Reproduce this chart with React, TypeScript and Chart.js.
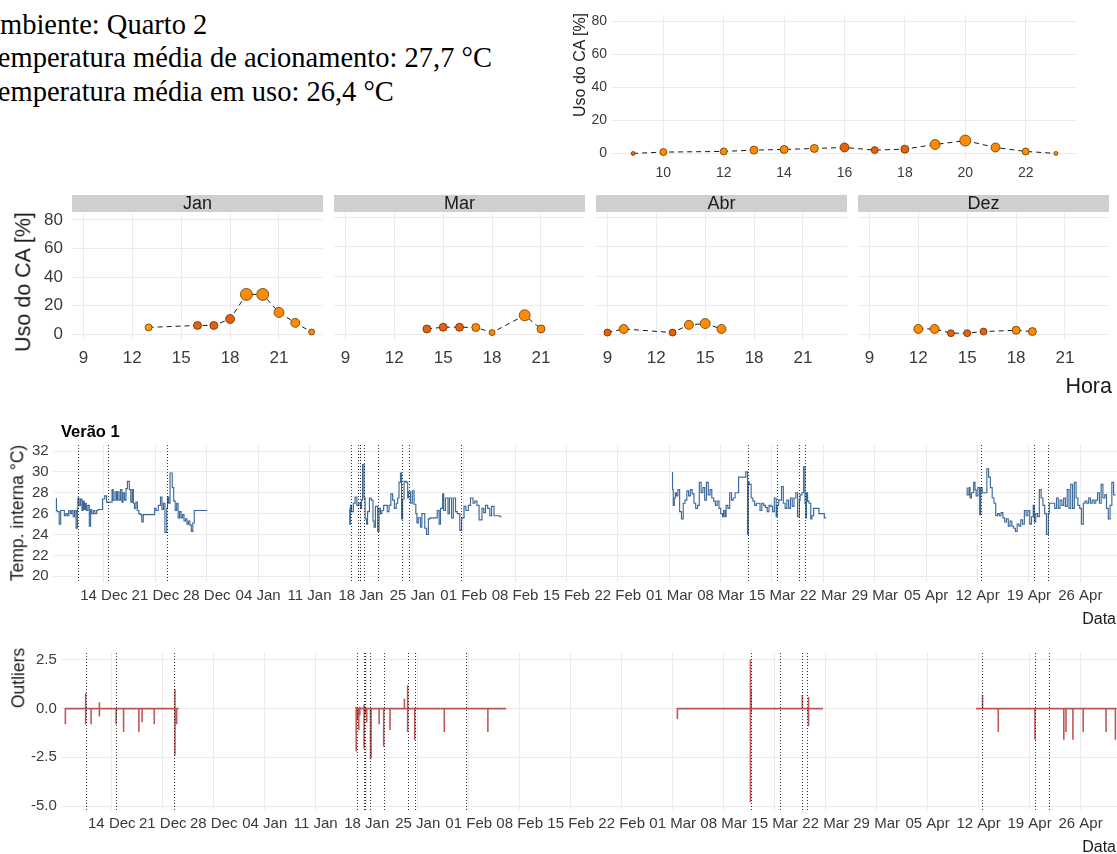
import React, { useEffect, useRef } from 'react';
import { Chart, registerables } from 'chart.js';

Chart.register(...registerables);

const SANS = '"Liberation Sans", Arial, Helvetica, sans-serif';
const SERIF = '"Liberation Serif", "Times New Roman", Times, serif';
const GRID = '#EBEBEB';
const TICK_COLOR = '#3a3a3a';

// ---------------- header text ----------------
const headerLines = [
  'Ambiente: Quarto 2',
  'Temperatura média de acionamento: 27,7 °C',
  'Temperatura média em uso: 26,4 °C',
];

// ---------------- hourly AC use (all months) ----------------
const allHours = [9, 10, 12, 13, 14, 15, 16, 17, 18, 19, 20, 21, 22, 23];
const allUse = [0, 0.8, 1.2, 2, 2.4, 3, 3.6, 2, 2.6, 5.4, 7.8, 3.6, 1.2, 0];
const allCount = [2, 3.5, 3.5, 4, 4, 4, 4.5, 3.5, 4, 5, 5.5, 4.5, 3.5, 2];
const allTone = [1, 0, 0, 0, 0, 0, 1, 1, 1, 0, 0, 0, 0, 0];
const allHourTicks = [10, 12, 14, 16, 18, 20, 22];

// ---------------- hourly AC use per month ----------------
const facetNames = ['Jan', 'Mar', 'Abr', 'Dez'];
const janHours = [13, 16, 17, 18, 19, 20, 21, 22, 23];
const janUse = [4.8, 6.2, 6.2, 10.7, 27.9, 27.9, 15.3, 8.0, 1.6];
const janCount = [3.5, 4, 4, 4.5, 6, 6, 5, 4.5, 3];
const janTone = [2, 1, 1, 1, 0, 0, 0, 0, 0];
const marHours = [14, 15, 16, 17, 18, 20, 21];
const marUse = [3.6, 4.8, 4.8, 4.6, 1.1, 13.0, 3.6];
const marCount = [4, 4, 4, 4, 3, 5.5, 4];
const marTone = [1, 1, 1, 0, 0, 0, 0];
const abrHours = [9, 10, 13, 14, 15, 16];
const abrUse = [1.1, 3.6, 1.1, 6.4, 7.3, 3.6];
const abrCount = [3.5, 4.5, 3.5, 4.5, 5, 4.5];
const abrTone = [1, 0, 1, 0, 0, 0];
const dezHours = [12, 13, 14, 15, 16, 18, 19];
const dezUse = [3.6, 3.6, 0.7, 0.7, 1.8, 2.7, 1.8];
const dezCount = [4.5, 4.5, 3.5, 3.5, 3.5, 4, 4];
const dezTone = [0, 0, 1, 1, 1, 0, 0];
const facetHourTicks = [9, 12, 15, 18, 21];
const useTicks = [0, 20, 40, 60, 80];

// ---------------- time axis (days since 14 Dec 2020) ----------------
const dateTickDays = [0, 7, 14, 21, 28, 35, 42, 49, 56, 63, 70, 77, 84, 91, 98, 105, 112, 119, 126, 133];
const dateTickLabels = [
  '14 Dec', '21 Dec', '28 Dec', '04 Jan', '11 Jan', '18 Jan', '25 Jan', '01 Feb', '08 Feb', '15 Feb',
  '22 Feb', '01 Mar', '08 Mar', '15 Mar', '22 Mar', '29 Mar', '05 Apr', '12 Apr', '19 Apr', '26 Apr',
];
const acEventDays = [-3.58, 0.53, 8.6, 33.65, 34.58, 34.83, 35.48, 37.32, 40.6, 41.56, 48.66, 87.72, 91.68, 94.74, 95.5, 119.44, 126.68, 128.6];

// ---------------- indoor temperature [day, °C] ----------------
const tempDec = [
  [-6.48, 27.5], [-6.38, 26.3], [-6.1, 26.2], [-5.9, 25.0], [-5.75, 26.3], [-5.4, 26.3], [-5.2, 25.8], [-5.0, 26.0],
  [-4.8, 25.8], [-4.6, 26.3], [-4.4, 26.0], [-4.2, 26.3], [-4.0, 25.7], [-3.8, 26.3], [-3.62, 24.6], [-3.55, 26.5],
  [-3.4, 27.5], [-3.2, 26.8], [-3.0, 27.4], [-2.85, 26.3], [-2.7, 27.2], [-2.55, 26.4], [-2.4, 27.0], [-2.2, 26.3],
  [-2.0, 26.8], [-1.82, 24.8], [-1.68, 26.4], [-1.45, 26.0], [-1.25, 26.3], [-1.0, 26.0], [-0.8, 26.3], [-0.5, 26.4],
  [-0.2, 26.4], [0.1, 27.4], [0.35, 27.7], [0.55, 27.1], [1.1, 27.1], [1.25, 28.3], [1.5, 27.3], [1.7, 28.1],
  [1.85, 27.3], [2.05, 28.1], [2.25, 27.3], [2.45, 28.3], [2.6, 27.1], [2.8, 28.0], [3.0, 27.3], [3.2, 28.4],
  [3.45, 29.1], [3.65, 28.3], [3.85, 27.1], [4.0, 28.3], [4.15, 27.0], [4.35, 26.5], [4.55, 27.1], [4.75, 26.3],
  [4.95, 26.0], [5.15, 25.9], [5.35, 25.2], [5.5, 25.9], [6.9, 25.9], [7.1, 26.5], [7.4, 26.3], [7.7, 26.8],
  [7.9, 27.6], [8.1, 26.4], [8.3, 27.0], [8.55, 24.2], [8.65, 26.5], [8.8, 27.6], [9.0, 27.0], [9.3, 29.9],
  [9.5, 28.5], [9.7, 27.2], [9.9, 26.3], [10.1, 27.0], [10.3, 25.6], [10.5, 26.2], [10.7, 25.6], [10.9, 25.9],
  [11.1, 25.3], [11.3, 25.5], [11.5, 25.0], [11.7, 25.3], [11.9, 24.9], [12.1, 24.3], [12.3, 25.1], [13.1, 26.3],
  [14.05, 26.3],
];
const tempJan = [
  [33.48, 26.5], [33.58, 25.0], [33.72, 26.8], [33.97, 26.2], [34.21, 27.0], [34.45, 27.6], [34.7, 26.8], [34.94, 27.0],
  [35.09, 26.5], [35.23, 27.3], [35.43, 30.7], [35.57, 27.5], [35.77, 25.5], [35.91, 25.0], [36.16, 26.2], [36.4, 27.5],
  [36.64, 27.3], [36.79, 25.3], [36.98, 24.7], [37.28, 26.7], [37.47, 24.3], [37.66, 26.5], [37.86, 26.0], [38.1, 26.3],
  [38.59, 26.8], [38.83, 26.2], [39.08, 26.8], [39.32, 27.9], [39.56, 27.3], [39.81, 26.5], [40.0, 27.0], [40.19, 27.5],
  [40.39, 29.0], [40.54, 29.9], [40.68, 25.5], [40.88, 27.4], [41.17, 29.1], [41.37, 29.0], [41.51, 27.5], [41.76, 28.1],
  [42.0, 27.0], [42.24, 28.2], [42.48, 26.9], [42.63, 26.0], [42.82, 25.1], [43.11, 25.6], [43.31, 24.7], [43.7, 26.0],
  [43.94, 24.6], [44.19, 24.0], [44.43, 25.5], [45.4, 25.6], [45.65, 26.3], [45.84, 25.0], [46.13, 26.5], [46.28, 27.9],
  [46.52, 26.3], [46.86, 27.5], [47.06, 26.0], [47.35, 27.5], [47.59, 25.6], [47.89, 27.5], [48.13, 26.2], [48.47, 26.0],
  [48.72, 24.4], [49.05, 25.6], [49.3, 26.7], [49.64, 26.3], [49.93, 26.8], [50.27, 27.5], [50.51, 27.0], [50.81, 27.2],
  [51.1, 26.8], [51.49, 25.4], [51.73, 26.5], [51.97, 26.1], [52.27, 26.8], [52.56, 26.5], [52.8, 25.8], [53.14, 26.7],
  [53.92, 25.8], [54.16, 25.7],
];
const tempMar = [
  [77.45, 30.0], [77.55, 28.3], [77.69, 26.8], [77.84, 27.5], [77.99, 28.0], [78.18, 27.7], [78.42, 28.3], [78.67, 26.2],
  [78.91, 25.5], [79.15, 27.0], [79.4, 27.3], [79.64, 28.2], [79.88, 27.7], [80.13, 28.3], [80.37, 27.9], [80.61, 27.0],
  [80.86, 26.5], [81.1, 26.8], [81.34, 29.0], [81.59, 28.0], [81.83, 28.5], [82.07, 27.3], [82.32, 29.0], [82.56, 27.8],
  [82.8, 28.3], [83.05, 27.5], [83.29, 27.2], [83.53, 26.8], [83.78, 27.2], [84.02, 26.5], [84.26, 26.0], [84.41, 25.7],
  [84.6, 26.3], [84.75, 25.7], [84.99, 26.8], [85.24, 26.5], [85.48, 28.0], [85.72, 27.3], [85.97, 27.5], [86.45, 28.0],
  [87.43, 29.5], [87.67, 30.0], [87.77, 24.0], [87.91, 29.0], [88.16, 28.8], [88.4, 27.5], [88.64, 27.2], [88.89, 26.8],
  [89.37, 27.0], [89.62, 26.3], [89.86, 27.0], [90.1, 26.8], [90.35, 26.6], [90.59, 26.2], [90.83, 26.8], [91.08, 26.7],
  [91.32, 26.2], [91.57, 27.5], [91.71, 25.7], [91.91, 26.8], [92.3, 27.3], [92.54, 28.6], [92.79, 27.0], [93.03, 26.5],
  [93.27, 27.3], [93.52, 26.5], [93.76, 27.5], [94.0, 26.7], [94.25, 27.5], [94.49, 28.0], [94.73, 25.7], [94.83, 27.3],
  [95.07, 27.8], [95.31, 28.0], [95.5, 30.5], [95.6, 27.0], [95.7, 25.6], [95.85, 28.0], [96.04, 27.2], [96.28, 27.0],
  [96.43, 25.5], [96.67, 25.8], [97.4, 26.5], [98.13, 26.0], [98.38, 25.6],
];
const tempApr = [
  [117.59, 28.5], [117.83, 27.8], [117.98, 28.5], [118.17, 27.5], [118.47, 28.0], [118.66, 29.0], [118.81, 28.3], [119.05, 27.7],
  [119.29, 28.5], [119.44, 25.9], [119.63, 28.5], [119.93, 28.0], [120.27, 28.0], [120.51, 30.3], [120.75, 29.5], [121.0, 28.5],
  [121.24, 27.5], [121.48, 27.0], [121.73, 25.8], [121.97, 26.0], [122.21, 25.8], [122.46, 26.1], [122.7, 25.6], [122.94, 25.2],
  [123.19, 25.5], [123.43, 24.8], [123.67, 25.3], [123.92, 24.8], [124.16, 24.6], [124.4, 24.3], [124.65, 25.0], [124.89, 24.8],
  [125.13, 25.4], [125.38, 25.0], [125.62, 26.3], [125.86, 25.8], [126.11, 26.3], [126.35, 25.0], [126.59, 25.7], [126.74, 26.8],
  [126.93, 25.2], [127.18, 26.0], [127.42, 25.7], [127.66, 28.3], [127.91, 27.5], [128.15, 26.8], [128.39, 26.0], [128.64, 24.0],
  [128.78, 26.0], [129.51, 27.0], [129.76, 26.5], [130.0, 27.5], [130.24, 26.5], [130.49, 27.3], [130.73, 26.8], [130.97, 27.5],
  [131.22, 26.7], [131.46, 28.3], [131.7, 26.5], [131.95, 28.8], [132.19, 26.5], [132.43, 29.0], [132.68, 27.5], [132.92, 26.8],
  [133.16, 26.5], [133.41, 25.0], [133.65, 27.0], [133.89, 27.2], [134.14, 27.0], [134.38, 27.5], [134.62, 27.0], [134.87, 27.3],
  [135.11, 27.0], [135.35, 27.3], [135.6, 28.0], [135.84, 27.0], [136.08, 28.8], [136.33, 27.5], [136.57, 27.8], [136.81, 26.5],
  [137.06, 25.5], [137.3, 26.8], [137.54, 29.0], [137.79, 27.8],
];
const tempTicks = [20, 22, 24, 26, 28, 30, 32];

// ---------------- outliers ----------------
// [start day, value at start, end day]
const outlierSpans = [
  [-6.37, -0.8, 9.16],
  [33.5, 0, 54.15],
  [77.65, -0.54, 97.64],
  [118.65, 0, 137.95],
];
// [day, value, optional second value]
const outlierSpikes = [
  [-3.58, 0.8, -0.8], [-2.84, -0.8], [-1.7, 0.33, -0.41], [0.6, -0.8], [1.62, -1.2], [3.72, -1.2], [4.16, -0.7],
  [5.83, -0.8], [8.67, 1.0, -2.4], [8.9, -0.8],
  [33.56, 0.1, -2.2], [33.72, -0.6], [33.9, -1.1], [34.05, 0.1, -0.35], [34.64, 0.2, -2.05], [34.8, -0.3], [35.0, -0.7],
  [35.52, -2.6], [35.6, -2.5], [36.7, -0.8], [37.33, -1.95], [38.2, -1.1], [40.17, 0.5], [40.62, 1.2, -1.2],
  [41.59, -1.6], [45.65, -1.2], [51.63, -1.2],
  [87.68, 2.5, -4.8], [87.76, 1.0, -0.2], [94.8, 0.7], [95.6, 0.6, -0.9], [95.7, -0.2],
  [119.54, 0.7], [121.7, -1.2], [126.74, -1.6], [130.7, -1.6], [131.0, -1.2], [131.95, -1.6], [133.36, -1.2],
  [136.5, -1.2], [137.78, -1.6],
];
const outlierTicks = [-5, -2.5, 0, 2.5];
const outlierTickLabels = ['-5.0', '-2.5', '0.0', '2.5'];

// ---------------- helpers ----------------
const TONE_COLORS = ['#FF8C00', '#E8600A', '#F5A300'];

type Area = { left: number; top: number; right: number; bottom: number };
type AxisSpec = { min: number; max: number; ticks: number[]; labels: string[] | null; size: number; pad: number };
type FrameSpec = { W: number; H: number; area: Area; x: AxisSpec; y: AxisSpec };

function frameOptions(f: FrameSpec, extraPlugins: any = {}) {
  const axis = (a: AxisSpec, isX: boolean) => ({
    type: 'linear',
    position: isX ? 'bottom' : 'left',
    min: a.min,
    max: a.max,
    afterFit: (s: any) => {
      if (isX) s.height = f.H - f.area.bottom;
      else s.width = f.area.left;
    },
    afterBuildTicks: (s: any) => {
      s.ticks = a.ticks.map((v) => ({ value: v }));
    },
    ticks: {
      display: !!a.labels,
      autoSkip: false,
      maxRotation: 0,
      minRotation: 0,
      padding: a.pad,
      color: TICK_COLOR,
      font: { family: SANS, size: a.size },
      callback: (_v: any, i: number) => (a.labels ? a.labels[i] : ''),
    },
    grid: { color: GRID, lineWidth: 1, drawTicks: false },
    border: { display: false },
  });
  return {
    animation: false,
    responsive: false,
    maintainAspectRatio: false,
    events: [],
    layout: {
      autoPadding: false,
      padding: { left: 0, top: f.area.top, right: f.W - f.area.right, bottom: 0 },
    },
    plugins: { legend: { display: false }, tooltip: { enabled: false }, ...extraPlugins },
    scales: { x: axis(f.x, true), y: axis(f.y, false) },
  };
}

const eventLinesPlugin = {
  id: 'eventLines',
  afterDatasetsDraw(chart: any, _args: any, opts: any) {
    const { ctx, chartArea, scales } = chart;
    ctx.save();
    ctx.strokeStyle = 'rgba(15,15,15,0.85)';
    ctx.lineWidth = 1;
    ctx.setLineDash([1, 2]);
    (opts.days || []).forEach((d: number) => {
      const px = Math.round(scales.x.getPixelForValue(d)) + 0.5;
      ctx.beginPath();
      ctx.moveTo(px, chartArea.top);
      ctx.lineTo(px, chartArea.bottom);
      ctx.stroke();
    });
    ctx.restore();
  },
};

function usePoints(hours: number[], use: number[]) {
  return hours.map((h, i) => ({ x: h, y: use[i] }));
}

function useDataset(hours: number[], use: number[], count: number[], tone: number[]) {
  return {
    data: usePoints(hours, use),
    borderColor: '#1a1a1a',
    borderWidth: 1,
    borderDash: [5, 4],
    tension: 0,
    pointRadius: count,
    pointBackgroundColor: tone.map((t) => TONE_COLORS[t]),
    pointBorderColor: '#4a2800',
    pointBorderWidth: 0.7,
    clip: false,
  };
}

function tempSeries() {
  const pts: any[] = [];
  [tempDec, tempJan, tempMar, tempApr].forEach((seg, k) => {
    if (k > 0) pts.push({ x: seg[0][0] - 0.5, y: null });
    seg.forEach(([d, v]) => pts.push({ x: d, y: v }));
  });
  return pts;
}

function outlierSeries() {
  const pts: any[] = [];
  outlierSpans.forEach(([s, sv, e], k) => {
    if (k > 0) pts.push({ x: s - 0.5, y: null });
    if (sv !== 0) pts.push({ x: s, y: sv });
    pts.push({ x: s, y: 0 });
    outlierSpikes
      .filter((sp) => sp[0] > s && sp[0] < e)
      .forEach((sp) => {
        pts.push({ x: sp[0], y: 0 });
        sp.slice(1).forEach((v) => pts.push({ x: sp[0], y: v }));
        pts.push({ x: sp[0], y: 0 });
      });
    pts.push({ x: e, y: 0 });
  });
  return pts;
}

function ChartCanvas(props: { left: number; top: number; width: number; height: number; make: (c: HTMLCanvasElement) => Chart }) {
  const ref = useRef<HTMLCanvasElement | null>(null);
  useEffect(() => {
    if (!ref.current) return;
    const chart = props.make(ref.current);
    return () => chart.destroy();
  }, []);
  return (
    <canvas
      ref={ref}
      width={props.width}
      height={props.height}
      style={{ position: 'absolute', left: props.left, top: props.top, width: props.width, height: props.height, display: 'block' }}
    />
  );
}

function Txt(props: {
  x: number; y: number; size: number; align?: 'left' | 'center' | 'right'; rotate?: boolean;
  weight?: number; family?: string; color?: string; children: any;
}) {
  const { x, y, size, align = 'left', rotate = false, weight = 400, family = SANS, color = '#1a1a1a' } = props;
  const tx = rotate ? '-50%' : align === 'left' ? '0' : align === 'center' ? '-50%' : '-100%';
  return (
    <div
      style={{
        position: 'absolute', left: x, top: y,
        transform: `translate(${tx}, -50%)${rotate ? ' rotate(-90deg)' : ''}`,
        fontFamily: family, fontSize: size, fontWeight: weight, lineHeight: 1, whiteSpace: 'nowrap', color,
      }}
    >
      {props.children}
    </div>
  );
}

// ---------------- chart factories ----------------
function makeOverall(c: HTMLCanvasElement) {
  const W = 557, H = 185;
  return new Chart(c, {
    type: 'line',
    data: { datasets: [useDataset(allHours, allUse, allCount, allTone) as any] },
    options: frameOptions({
      W, H, area: { left: 52, top: 15, right: 517, bottom: 160 },
      x: { min: 8.3, max: 23.7, ticks: allHourTicks, labels: allHourTicks.map(String), size: 14, pad: 5 },
      y: { min: -4, max: 84, ticks: useTicks, labels: useTicks.map(String), size: 14, pad: 5 },
    }) as any,
  });
}

const facetData = [
  [janHours, janUse, janCount, janTone],
  [marHours, marUse, marCount, marTone],
  [abrHours, abrUse, abrCount, abrTone],
  [dezHours, dezUse, dezCount, dezTone],
];

function makeFacet(k: number) {
  return (c: HTMLCanvasElement) => {
    const W = k === 0 ? 330 : 260, H = 180;
    const area = k === 0 ? { left: 72, top: 17, right: 323, bottom: 145 } : { left: 4, top: 17, right: 255, bottom: 145 };
    const [h, u, n, t] = facetData[k];
    return new Chart(c, {
      type: 'line',
      data: { datasets: [useDataset(h, u, n, t) as any] },
      options: frameOptions({
        W, H, area,
        x: { min: 8.3, max: 23.7, ticks: facetHourTicks, labels: facetHourTicks.map(String), size: 17, pad: 8 },
        y: { min: -4, max: 84, ticks: useTicks, labels: k === 0 ? useTicks.map(String) : null, size: 17, pad: 9 },
      }) as any,
    });
  };
}

function makeTemp(c: HTMLCanvasElement) {
  const W = 1117, H = 215;
  return new Chart(c, {
    type: 'line',
    data: {
      datasets: [{
        data: tempSeries(),
        borderColor: 'rgba(34,84,140,0.88)',
        borderWidth: 1.15,
        pointRadius: 0,
        spanGaps: false,
        stepped: 'after',
      } as any],
    },
    plugins: [eventLinesPlugin as any],
    options: frameOptions({
      W, H, area: { left: 52.6, top: 25, right: 1117, bottom: 162 },
      x: { min: -7, max: 138, ticks: dateTickDays, labels: dateTickLabels, size: 15, pad: 5 },
      y: { min: 19.45, max: 32.58, ticks: tempTicks, labels: tempTicks.map(String), size: 15, pad: 4 },
    }, { eventLines: { days: acEventDays } }) as any,
  });
}

function makeOutliers(c: HTMLCanvasElement) {
  const W = 1117, H = 214;
  return new Chart(c, {
    type: 'line',
    data: {
      datasets: [{
        data: outlierSeries(),
        borderColor: 'rgba(170,22,22,0.72)',
        borderWidth: 1.6,
        pointRadius: 0,
        spanGaps: false,
      } as any],
    },
    plugins: [eventLinesPlugin as any],
    options: frameOptions({
      W, H, area: { left: 60.8, top: 6, right: 1117, bottom: 170 },
      x: { min: -7, max: 138, ticks: dateTickDays, labels: dateTickLabels, size: 15, pad: 5 },
      y: { min: -5.2, max: 2.85, ticks: outlierTicks, labels: outlierTickLabels, size: 15, pad: 4 },
    }, { eventLines: { days: acEventDays } }) as any,
  });
}

const stripLefts = [72, 334, 596, 858];

export default function App() {
  return (
    <div style={{ position: 'absolute', left: 0, top: 0, width: 1117, height: 854, overflow: 'hidden', background: '#ffffff' }}>
      {/* header */}
      <div style={{ position: 'absolute', left: 0, top: 7.5, fontFamily: SERIF, fontSize: 28.5, lineHeight: '33.8px', color: '#000', whiteSpace: 'nowrap' }}>
        {headerLines.map((t, i) => (
          <div key={i} style={{ marginLeft: i === 0 ? -20.6 : -17.6 }}>{t}</div>
        ))}
      </div>

      {/* overall hourly use */}
      <ChartCanvas left={560} top={0} width={557} height={185} make={makeOverall} />
      <Txt x={580} y={65} size={16} rotate>Uso do CA [%]</Txt>

      {/* monthly facets */}
      <ChartCanvas left={0} top={195} width={330} height={180} make={makeFacet(0)} />
      <ChartCanvas left={330} top={195} width={260} height={180} make={makeFacet(1)} />
      <ChartCanvas left={592} top={195} width={260} height={180} make={makeFacet(2)} />
      <ChartCanvas left={854} top={195} width={260} height={180} make={makeFacet(3)} />
      {facetNames.map((n, i) => (
        <div key={n} style={{
          position: 'absolute', left: stripLefts[i], top: 195, width: 251, height: 17, background: '#CFCFCF',
          fontFamily: SANS, fontSize: 18, lineHeight: '17px', textAlign: 'center', color: '#1a1a1a',
        }}>{n}</div>
      ))}
      <Txt x={24} y={282} size={21.5} rotate>Uso do CA [%]</Txt>
      <Txt x={1112} y={387} size={21.5} align="right">Hora</Txt>

      {/* temperature */}
      <ChartCanvas left={0} top={420} width={1117} height={215} make={makeTemp} />
      <Txt x={61} y={431} size={16.5} weight={700} color="#000">Verão 1</Txt>
      <Txt x={18} y={513} size={17.5} rotate>Temp. interna °C)</Txt>
      <Txt x={1116} y={619} size={16} align="right">Data</Txt>

      {/* outliers */}
      <ChartCanvas left={0} top={640} width={1117} height={214} make={makeOutliers} />
      <Txt x={18.5} y={678} size={17.5} rotate>Outliers</Txt>
      <Txt x={1116} y={847} size={16} align="right">Data</Txt>
    </div>
  );
}
